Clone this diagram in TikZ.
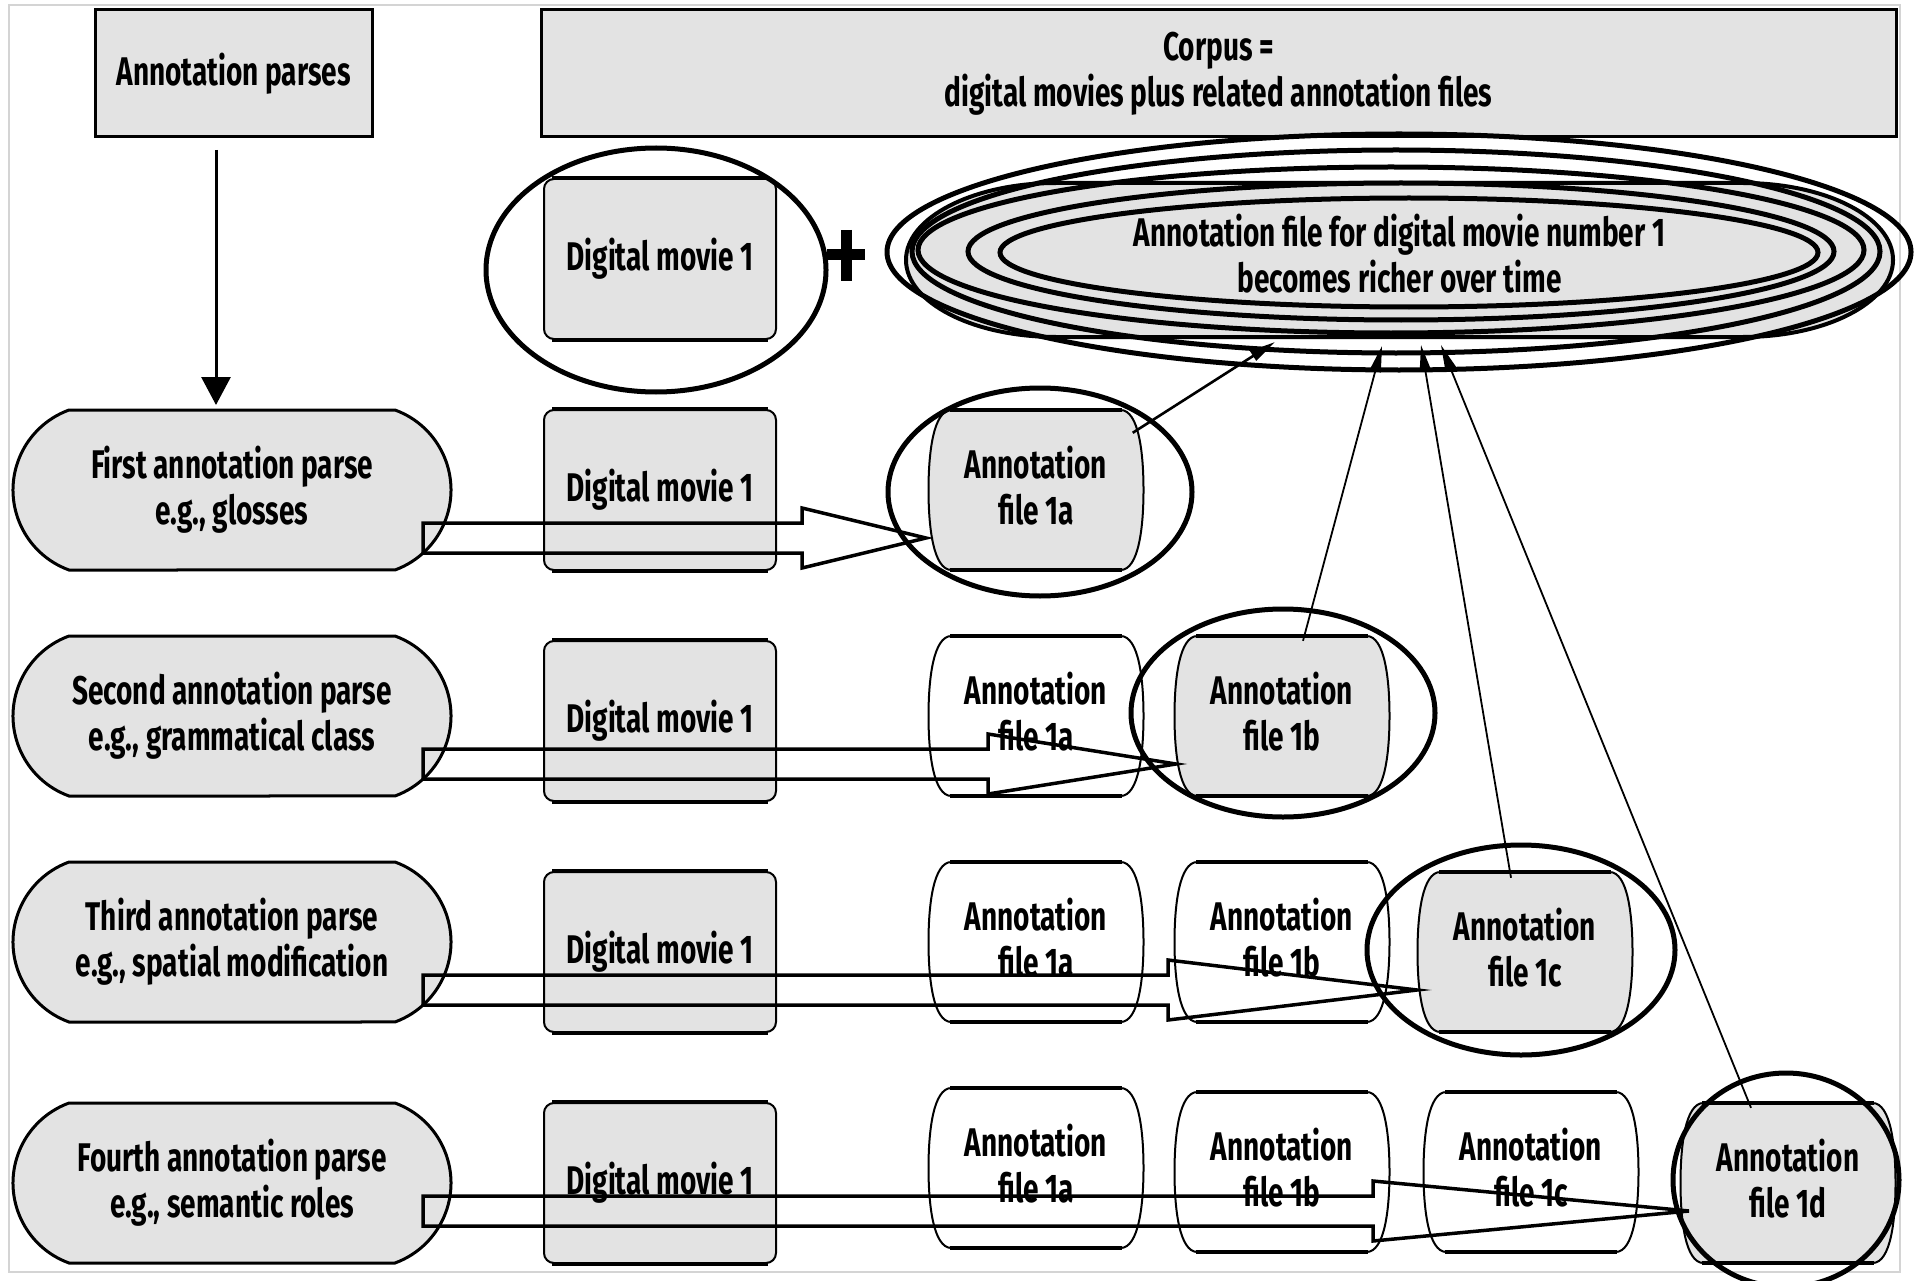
\documentclass[tikz,border=0pt]{standalone}
\usepackage{fontspec}
\setmainfont{Fira Sans}[FakeStretch=0.70]
\usetikzlibrary{shapes.misc,arrows.meta,calc}
\definecolor{boxgray}{HTML}{E3E3E3}
\definecolor{framegray}{HTML}{D4D4D4}
% barrel-shaped annotation file: #1 name, #2 x, #3 y, #4 fill, #5 text
\newcommand\filenode[5]{%
  \path[draw, line width=2pt, fill=#4]
    ({#2-84.5},{#3-80}) -- ({#2+84.5},{#3-80})
    .. controls ({#2+103},{#3-80}) and ({#2+107.5},{#3-36}) .. ({#2+107.5},{#3})
    .. controls ({#2+107.5},{#3+36}) and ({#2+103},{#3+80}) .. ({#2+84.5},{#3+80})
    -- ({#2-84.5},{#3+80})
    .. controls ({#2-103},{#3+80}) and ({#2-107.5},{#3+36}) .. ({#2-107.5},{#3})
    .. controls ({#2-107.5},{#3-36}) and ({#2-103},{#3-80}) .. cycle;
  \draw[line width=4pt] ({#2-86},{#3-80}) -- ({#2+86},{#3-80});
  \draw[line width=4pt] ({#2-86},{#3+80}) -- ({#2+86},{#3+80});
  \node[filetext] (#1) at (#2,{#3-4}) {#5};
}
\begin{document}
\begin{tikzpicture}[x=1pt,y=-1pt,
  every node/.style={font=\bfseries\fontsize{40}{46}\selectfont, align=center, inner sep=2pt},
  titlebox/.style={draw, line width=3pt, fill=boxgray, minimum height=127pt},
  parsebox/.style={draw, line width=3pt, fill=boxgray, rounded rectangle, rounded rectangle arc length=140, minimum width=442pt, minimum height=160pt},
  moviebox/.style={draw, line width=2pt, fill=boxgray, rounded corners=10pt, minimum width=232pt, minimum height=160pt},
  filetext/.style={minimum width=215pt, minimum height=160pt},
  ring/.style={line width=5pt},
  edge4/.style={line width=4.5pt},
  blockarrow/.style={draw, line width=3.5pt, line join=miter},
  thinarrow/.style={line width=1.8pt, -{Triangle[length=26pt,width=11pt]}},
]
\useasboundingbox (0,0) rectangle (1919,1281);
\draw[framegray, line width=2pt] (9,5) rectangle (1900,1272);

% header boxes
\node[titlebox, minimum width=277pt] (ap) at (233.5,73.5) {Annotation parses};
\node[titlebox, minimum width=1355pt] (corpus) at (1218.5,73.5) {Corpus =\\digital movies plus related annotation files};

% top movie + plus
\node[moviebox] (m0) at (660,259) {Digital movie 1};
\draw[line width=11pt] (827,255) -- (865,255);
\draw[line width=11pt] (846,230) -- (846,281);

% big annotation file cluster
\path[draw, line width=4pt, fill=boxgray]
  (1056,183) -- (1743,183)
  .. controls ({1743+0.5523*150},183) and (1893,{260-0.5523*77}) .. (1893,260)
  .. controls (1893,{260+0.5523*77}) and ({1743+0.5523*150},337) .. (1743,337)
  -- (1056,337)
  .. controls ({1056-0.5523*150},337) and (906,{260+0.5523*77}) .. (906,260)
  .. controls (906,{260-0.5523*77}) and ({1056-0.5523*150},183) .. cycle;
\node (big) at (1399.5,254) {Annotation file for digital movie number 1\\becomes richer over time};
\draw[ring] (1399,252) ellipse [x radius=512pt, y radius=118pt];
\draw[ring] (1396,251.5) ellipse [x radius=484pt, y radius=101.5pt];
\draw[ring] (1391,250) ellipse [x radius=473pt, y radius=83pt];
\draw[ring] (1401,251.5) ellipse [x radius=433pt, y radius=68.5pt];
\draw[ring] (1409,252.5) ellipse [x radius=409pt, y radius=54.5pt];

% parse nodes
\node[parsebox] (p1) at (232,490) {First annotation parse\\e.g., glosses};
\node[parsebox] (p2) at (232,716) {Second annotation parse\\e.g., grammatical class};
\node[parsebox] (p3) at (232,942) {Third annotation parse\\e.g., spatial modification};
\node[parsebox] (p4) at (232,1183) {Fourth annotation parse\\e.g., semantic roles};

% movies
\node[moviebox] (m1) at (660,490) {Digital movie 1};
\node[moviebox] (m2) at (660,721) {Digital movie 1};
\node[moviebox] (m3) at (660,952) {Digital movie 1};
\node[moviebox] (m4) at (660,1183) {Digital movie 1};
\foreach \m in {m0,m1,m2,m3,m4}{
  \draw[edge4] ($(\m.north west)+(9,0)$) -- ($(\m.north east)+(-9,0)$);
  \draw[edge4] ($(\m.south west)+(9,0)$) -- ($(\m.south east)+(-9,0)$);
}

% annotation files
\filenode{r1a}{1036}{490}{boxgray}{Annotation\\file 1a}
\filenode{r2a}{1036}{716}{white}{Annotation\\file 1a}
\filenode{r2b}{1282}{716}{boxgray}{Annotation\\file 1b}
\filenode{r3a}{1036}{942}{white}{Annotation\\file 1a}
\filenode{r3b}{1282}{942}{white}{Annotation\\file 1b}
\filenode{r3c}{1525}{952}{boxgray}{Annotation\\file 1c}
\filenode{r4a}{1036}{1168}{white}{Annotation\\file 1a}
\filenode{r4b}{1282}{1172}{white}{Annotation\\file 1b}
\filenode{r4c}{1531}{1172}{white}{Annotation\\file 1c}
\filenode{r4d}{1788}{1183}{boxgray}{Annotation\\file 1d}

% down arrow
\coordinate (d0) at (216,150);
\coordinate (d1) at (216,405);
\draw[line width=3pt, -{Triangle[length=28pt,width=29pt]}] (d0) -- (d1);

% block arrows
\coordinate (s1) at (423,538);  \coordinate (h1) at (802,538);  \coordinate (t1) at (926,538);
\coordinate (s2) at (423,764);  \coordinate (h2) at (988,764);  \coordinate (t2) at (1176,764);
\coordinate (s3) at (423,990);  \coordinate (h3) at (1168,990); \coordinate (t3) at (1417,990);
\coordinate (s4) at (423,1211); \coordinate (h4) at (1373,1211);\coordinate (t4) at (1689,1211);
\foreach \i in {1,2,3,4}{
  \draw[blockarrow] ($(s\i)+(0,-15)$) -- ($(h\i)+(0,-15)$) -- ($(h\i)+(0,-30)$) -- (t\i)
    -- ($(h\i)+(0,30)$) -- ($(h\i)+(0,15)$) -- ($(s\i)+(0,15)$) -- cycle;
}

% rings
\draw[ring] (656,270) ellipse [x radius=170pt, y radius=122pt];
\draw[ring] (1040,492) ellipse [x radius=152pt, y radius=104pt];
\draw[ring] (1283,713) ellipse [x radius=152pt, y radius=104pt];
\draw[ring] (1521,950) ellipse [x radius=154pt, y radius=105pt];
\draw[ring] (1786,1180) ellipse [x radius=113pt, y radius=107pt];

% thin arrows to the big file
\coordinate (e1) at (1275,342);
\coordinate (e2) at (1382,346);
\coordinate (e3) at (1421,345);
\coordinate (e4) at (1441,345);
\draw[thinarrow, line width=2.6pt] ($(r1a.north east)+(-11,27)$) -- (e1);
\draw[thinarrow] ($(r2b.north)+(21,9)$) -- (e2);
\draw[thinarrow] ($(r3c.north)+(-14,10)$) -- (e3);
\draw[thinarrow] ($(r4d.north)+(-37,9)$) -- (e4);
\end{tikzpicture}
\end{document}
